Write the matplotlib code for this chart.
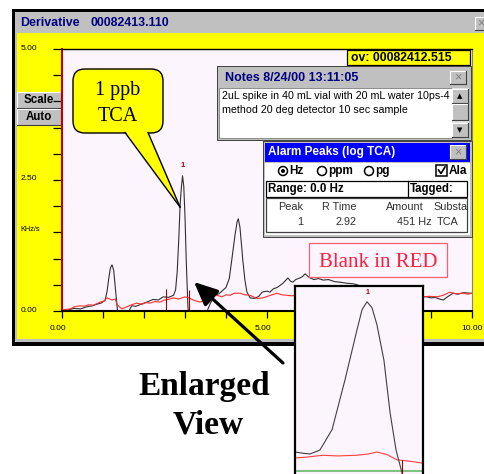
import matplotlib
matplotlib.use('Agg')
import matplotlib.pyplot as plt
from matplotlib.patches import Rectangle, FancyBboxPatch, Polygon, Circle
from matplotlib.transforms import ScaledTranslation
import numpy as np

plt.rcParams['font.family'] = ['Liberation Sans', 'DejaVu Sans']

W, H = 485, 474

# ---- trace data ----
black_x = [0.0, 0.15, 0.3, 0.45, 0.6, 0.75, 0.85, 0.95, 1.05, 1.1, 1.14, 1.18, 1.22, 1.26, 1.3,
           1.34, 1.38, 1.45, 1.55, 1.62, 1.7, 1.8, 1.9, 2.0, 2.1, 2.22, 2.35, 2.47, 2.6, 2.72,
           2.77, 2.81, 2.85, 2.88, 2.91, 2.94, 2.97, 3.0, 3.03, 3.07, 3.12, 3.2, 3.35, 3.53,
           3.62, 3.73, 3.83, 3.93, 4.0, 4.08, 4.15, 4.22, 4.27, 4.30, 4.34, 4.38, 4.41, 4.46,
           4.51, 4.59, 4.7, 4.8, 4.88, 5.0, 5.07, 5.15, 5.25, 5.39, 5.45, 5.51, 5.57, 5.63,
           5.7, 5.8, 5.87, 5.93, 6.0, 6.05, 6.15, 6.25, 6.37, 6.5, 6.65, 6.78, 6.95, 7.1, 7.2,
           7.35, 7.5, 7.7, 7.9, 8.1, 8.3, 8.5, 8.7, 8.9, 9.0, 9.1, 9.2, 9.3, 9.4, 9.54, 9.65,
           9.8, 9.95, 10.0]
black_y = [-0.05, 0.02, 0.05, 0.04, 0.08, 0.10, 0.13, 0.15, 0.20, 0.38, 0.62, 0.82, 0.88, 0.78,
           0.45, 0.12, -0.2, -0.4, -0.3, -0.02, 0.10, 0.09, 0.12, 0.15, 0.18, 0.22, 0.21, 0.27,
           0.26, 0.30, 0.40, 0.75, 1.40, 2.02, 2.35, 2.58, 2.38, 1.80, 0.97, 0.10, -0.4, -0.6,
           -0.5, -0.02, 0.15, 0.30, 0.33, 0.40, 0.45, 0.62, 1.03, 1.45, 1.70, 1.76, 1.60, 1.25,
           0.97, 0.60, 0.36, 0.25, 0.24, 0.28, 0.36, 0.38, 0.36, 0.42, 0.45, 0.53, 0.58, 0.63,
           0.57, 0.55, 0.60, 0.63, 0.66, 0.71, 0.66, 0.63, 0.60, 0.62, 0.59, 0.60, 0.56, 0.55,
           0.53, 0.52, 0.50, 0.46, 0.42, 0.38, 0.35, 0.33, 0.30, 0.29, 0.28, 0.27, 0.25, 0.26,
           0.23, 0.21, 0.27, 0.34, 0.32, 0.35, 0.34, 0.34]

red_x = [0.0, 0.1, 0.2, 0.3, 0.44, 0.55, 0.65, 0.76, 0.85, 0.93, 1.02, 1.1, 1.22, 1.3, 1.34,
         1.4, 1.46, 1.52, 1.58, 1.7, 1.82, 1.95, 2.05, 2.15, 2.27, 2.39, 2.5, 2.6, 2.71, 2.85,
         3.0, 3.1, 3.2, 3.28, 3.37, 3.48, 3.6, 3.7, 3.78, 3.9, 4.0, 4.1, 4.2, 4.34, 4.45, 4.59,
         4.75, 4.9, 5.05, 5.24, 5.35, 5.48, 5.6, 5.8, 6.0, 6.3, 6.6, 7.0, 7.4, 7.8, 8.2, 8.5,
         8.8, 8.95, 9.15, 9.3, 9.46, 9.6, 9.78, 9.9, 10.0]
red_y = [0.02, 0.03, 0.04, 0.08, 0.10, 0.09, 0.12, 0.11, 0.14, 0.17, 0.19, 0.25, 0.21, 0.23,
         0.13, 0.08, 0.04, 0.06, 0.08, 0.12, 0.15, 0.13, 0.16, 0.15, 0.18, 0.17, 0.21, 0.22,
         0.25, 0.23, 0.27, 0.25, 0.21, 0.19, 0.17, 0.21, 0.25, 0.28, 0.30, 0.27, 0.31, 0.30,
         0.34, 0.34, 0.31, 0.30, 0.24, 0.25, 0.29, 0.34, 0.31, 0.30, 0.29, 0.30, 0.31, 0.29,
         0.30, 0.31, 0.30, 0.29, 0.28, 0.28, 0.27, 0.28, 0.27, 0.30, 0.36, 0.33, 0.34, 0.32,
         0.34]

marker_x = [2.54, 3.10]
marker_top = [0.42, 0.40]

# enlarged view of peak 1
zoom_black_x = [2.50, 2.55, 2.588, 2.646, 2.717, 2.793, 2.863, 2.893, 2.922, 2.951, 2.980,
                3.021, 3.057, 3.092, 3.127, 3.15]
zoom_black_y = [0.29, 0.27, 0.26, 0.32, 0.63, 1.39, 2.15, 2.46, 2.58, 2.49, 2.23, 1.69, 0.89,
                0.32, -0.03, -0.35]
zoom_red_x = [2.50, 2.56, 2.664, 2.75, 2.863, 2.93, 2.980, 3.04, 3.098, 3.17, 3.25]
zoom_red_y = [0.20, 0.21, 0.24, 0.23, 0.24, 0.26, 0.29, 0.25, 0.17, 0.15, 0.12]
zoom_marker_x = 3.127

x_major = [0, 5, 10]
x_labels = ['0.00', '5.00', '10.00']
y_major = [0, 2.5, 5]
y_labels = ['0.00', '2.50', '5.00']

notes_lines = ['2uL spike in 40 mL vial with 20 mL water 10ps-4',
               'method 20 deg detector 10 sec sample']
table_head = ['Peak', 'R Time', 'Amount', 'Substa']
table_row = ['1', '2.92', '451 Hz', 'TCA']

PINK = '#FDF5FD'
YEL = '#FFFF00'
GRAY = '#C0C0C0'
NAVY = '#000080'


def fr(x0, y0, x1, y1):
    # pixel box (top-left origin) -> figure fraction
    return [x0 / W, 1 - y1 / H, (x1 - x0) / W, (y1 - y0) / H]


def rect(ax, x, y, w, h, fc, ec='none', lw=0.8, z=1):
    ax.add_patch(Rectangle((x, y), w, h, fc=fc, ec=ec, lw=lw, zorder=z))


def button(ax, x, y, w, h, z=5):
    rect(ax, x, y, w, h, GRAY, z=z)
    ax.plot([x, x + w], [y, y], color='white', lw=0.8, zorder=z + 0.1)
    ax.plot([x, x], [y, y + h], color='white', lw=0.8, zorder=z + 0.1)
    ax.plot([x, x + w], [y + h, y + h], color='#404040', lw=0.8, zorder=z + 0.1)
    ax.plot([x + w, x + w], [y, y + h], color='#404040', lw=0.8, zorder=z + 0.1)


fig = plt.figure(figsize=(W / 100, H / 100), dpi=100)
fig.patch.set_facecolor('white')

# ---- window chrome ----
bg = fig.add_axes([0, 0, 1, 1])
bg.set_zorder(0)
bg.axis('off')
rect(bg, 12, 9, 480, 337, 'black')
rect(bg, 15, 12, 475, 330, GRAY)
rect(bg, 17, 33, 470, 306, YEL)
bg.text(20, 23, 'Derivative', color=NAVY, fontsize=8.9, fontweight='bold', va='center')
bg.text(91, 23, '00082413.110', color=NAVY, fontsize=8.9, fontweight='bold', va='center')
button(bg, 475, 17, 14, 13)
bg.text(481, 23.5, '×', color='#808080', fontsize=9, ha='center', va='center', zorder=7)
button(bg, 17, 92, 44, 16)
bg.text(39, 100, 'Scale', fontsize=8.3, fontweight='bold', ha='center', va='center', zorder=7)
button(bg, 17, 109, 44, 16)
bg.text(39, 117, 'Auto', fontsize=8.3, fontweight='bold', ha='center', va='center', zorder=7)
bg.text(20, 229, 'KHz/s', fontsize=5.3, va='center')
bg.set_xlim(0, W)
bg.set_ylim(H, 0)

# ---- main derivative plot ----
ax = fig.add_axes(fr(62, 49, 472, 311))
ax.set_zorder(1)
ax.set_facecolor(PINK)
ax.plot(black_x, black_y, color='#303030', lw=0.8)
ax.plot(red_x, red_y, color='#FF3030', lw=0.8)
ax.vlines(marker_x, 0, marker_top, color='#A00000', lw=0.8)
ipk = int(np.argmax(black_y))
ax.text(black_x[ipk], black_y[ipk] + 0.2, '1', color='#A00000', fontsize=5.5,
        fontweight='bold', ha='center', va='center')
ax.set_xlim(0, 10)
ax.set_ylim(0, 5)
ax.set_xticks(x_major)
ax.set_xticklabels(x_labels)
ax.set_xticks(np.arange(0, 11, 1), minor=True)
ax.set_yticks(y_major)
ax.set_yticklabels(y_labels)
ax.set_yticks(np.arange(0, 5.01, 0.5), minor=True)
ax.tick_params(axis='y', which='both', direction='out', length=6.5, width=0.9, pad=11.5,
               labelsize=6)
ax.tick_params(axis='x', which='both', direction='out', length=5, width=0.9, pad=5,
               labelsize=6)
for lab, dx in zip(ax.get_xticklabels(), [-4, -4, 0]):
    lab.set_transform(lab.get_transform() + ScaledTranslation(dx / 100, 0, fig.dpi_scale_trans))
for lab in ax.get_yticklabels():
    lab.set_transform(lab.get_transform() + ScaledTranslation(0, 2 / 100, fig.dpi_scale_trans))
ax.spines['left'].set_color('#C00000')
ax.spines['left'].set_linewidth(1.5)
ax.spines['bottom'].set_linewidth(1.5)
ax.spines['top'].set_linewidth(1.0)
ax.spines['right'].set_color('#808080')

# ---- overlay: windows, callouts ----
ov = fig.add_axes([0, 0, 1, 1])
ov.set_zorder(2)
ov.patch.set_visible(False)
ov.axis('off')

# ov box
rect(ov, 347, 50, 123, 15, YEL, ec='black', lw=0.9, z=2)
ov.text(351, 58, 'ov: 00082412.515', fontsize=8.8, fontweight='bold', va='center', zorder=3)

# callout
ov.add_patch(FancyBboxPatch((73, 69), 90, 64, boxstyle='round,pad=0,rounding_size=12',
                            fc=YEL, ec='black', lw=1.0, zorder=3))
ov.add_patch(Polygon([(125, 131), (148, 131), (180, 207)], closed=True, fc=YEL, ec='none',
                     zorder=3.1))
ov.plot([125, 180], [132.5, 207], color='black', lw=1.0, zorder=3.2)
ov.plot([148, 180], [132.5, 207], color='black', lw=1.0, zorder=3.2)
ov.text(118, 95, '1 ppb', family=['Liberation Serif', 'DejaVu Serif'], fontsize=14.5,
        ha='center', va='baseline', zorder=3.3)
ov.text(118, 121, 'TCA', family=['Liberation Serif', 'DejaVu Serif'], fontsize=14.5,
        ha='center', va='baseline', zorder=3.3)

# blank label
rect(ov, 309, 243, 138, 34, PINK, ec='#FF6070', lw=0.9, z=3)
ov.text(378, 267, 'Blank in RED', family=['Liberation Serif', 'DejaVu Serif'], fontsize=15,
        color='#FF2040', ha='center', va='baseline', zorder=3.3)

# notes window
rect(ov, 217, 66, 254, 74, GRAY, ec='#404040', lw=0.7, z=5)
ov.text(225, 78, 'Notes 8/24/00 13:11:05', color=NAVY, fontsize=9, fontweight='bold',
        va='center', zorder=6)
button(ov, 450, 71, 16, 13, z=6)
ov.text(458, 77.5, '×', color='#808080', fontsize=9, ha='center', va='center', zorder=7)
rect(ov, 219, 88, 233, 50, 'white', ec='#808080', lw=0.6, z=5.5)
for i, line in enumerate(notes_lines):
    ov.text(222, 96 + 13.5 * i, line, fontsize=7.7, va='center', zorder=6)
rect(ov, 452, 88, 17, 50, '#E4E4E4', z=5.5)
button(ov, 452, 89, 16, 14, z=6)
ov.text(460, 96, '▲', fontsize=5, ha='center', va='center', zorder=7,
        family='DejaVu Sans')
button(ov, 452, 104, 16, 16, z=6)
button(ov, 452, 123, 16, 14, z=6)
ov.text(460, 130, '▼', fontsize=5, ha='center', va='center', zorder=7,
        family='DejaVu Sans')

# alarm peaks window
rect(ov, 263, 141, 209, 96, GRAY, ec='#404040', lw=0.7, z=8)
rect(ov, 265, 143, 205, 19, '#0000FF', z=8.2)
ov.text(268, 152.5, 'Alarm Peaks (log TCA)', color='white', fontsize=8.5, fontweight='bold',
        va='center', zorder=8.5)
button(ov, 450, 145, 16, 14, z=8.5)
ov.text(458, 152, '×', color='#808080', fontsize=9, ha='center', va='center', zorder=9)
rect(ov, 265, 163, 205, 72, 'white', z=8.2)
ry = 171
ov.add_patch(Circle((283, ry), 4.5, fc='white', ec='black', lw=1.1, zorder=8.5))
ov.add_patch(Circle((283, ry), 2.0, fc='black', ec='none', zorder=8.6))
ov.text(289, ry, 'Hz', fontsize=8.5, fontweight='bold', va='center', zorder=8.5)
ov.add_patch(Circle((322, ry), 4.5, fc='white', ec='black', lw=1.1, zorder=8.5))
ov.text(328, ry, 'ppm', fontsize=8.5, fontweight='bold', va='center', zorder=8.5)
ov.add_patch(Circle((369, ry), 4.5, fc='white', ec='black', lw=1.1, zorder=8.5))
ov.text(375, ry, 'pg', fontsize=8.5, fontweight='bold', va='center', zorder=8.5)
rect(ov, 436, 165, 11, 11, 'white', ec='black', lw=1.1, z=8.5)
ov.plot([438.5, 441, 445], [170, 173.5, 167], color='black', lw=1.2, zorder=8.6)
ov.text(449, ry, 'Ala', fontsize=8.5, fontweight='bold', va='center', zorder=8.5)
rect(ov, 266, 181, 201, 16, 'white', ec='black', lw=0.9, z=8.4)
ov.plot([408, 408], [181, 197], color='black', lw=0.9, zorder=8.5)
ov.text(268, 189, 'Range: 0.0 Hz', fontsize=8.3, fontweight='bold', va='center', zorder=8.5)
ov.text(410, 189, 'Tagged:', fontsize=8.3, fontweight='bold', va='center', zorder=8.5)
rect(ov, 266, 198, 201, 34, 'white', ec='#404040', lw=0.9, z=8.4)
col_x = [303, 357, 424, 433]
col_ha = ['right', 'right', 'right', 'left']
for cx, ha, txt in zip(col_x, col_ha, table_head):
    ov.text(cx, 207, txt, fontsize=7.8, color='#303030', ha=ha, va='center', zorder=8.5)
row_x = [303, 357, 432, 437]
for cx, ha, txt in zip(row_x, col_ha, table_row):
    ov.text(cx, 222, txt, fontsize=7.8, color='#303030', ha=ha, va='center', zorder=8.5)

# arrow + caption
ov.annotate('', xy=(194, 282), xytext=(283, 363),
            arrowprops=dict(arrowstyle='-|>,head_length=1.1,head_width=0.5', lw=2.3,
                            color='black', mutation_scale=13, shrinkA=0, shrinkB=0),
            zorder=4)
ov.text(204, 395, 'Enlarged', family=['Liberation Serif', 'DejaVu Serif'], fontsize=24,
        fontweight='bold', ha='center', va='baseline')
ov.text(208, 434, 'View', family=['Liberation Serif', 'DejaVu Serif'], fontsize=24,
        fontweight='bold', ha='center', va='baseline')
ov.set_xlim(0, W)
ov.set_ylim(H, 0)

# ---- enlarged view inset ----
ins = fig.add_axes(fr(295, 286, 423, 476))
ins.set_zorder(3)
ins.set_facecolor(PINK)
ins.axhline(0, color='#80C080', lw=1.5)
ins.plot(zoom_red_x, zoom_red_y, color='#FF4040', lw=0.8)
ins.plot(zoom_black_x, zoom_black_y, color='#404040', lw=0.8)
ins.vlines(zoom_marker_x, -0.1, 0.17, color='#A00000', lw=0.8)
jpk = int(np.argmax(zoom_black_y))
ins.text(zoom_black_x[jpk], zoom_black_y[jpk] + 0.14, '1', color='#A00000', fontsize=5,
         fontweight='bold', ha='center', va='center')
ins.set_xlim(2.50, 3.25)
ins.set_ylim(-0.076, 2.82)
ins.set_xticks([])
ins.set_yticks([])
for s in ['left', 'right', 'top']:
    ins.spines[s].set_linewidth(1.6)
ins.spines['bottom'].set_visible(False)

fig.savefig('out.png', dpi=100)
